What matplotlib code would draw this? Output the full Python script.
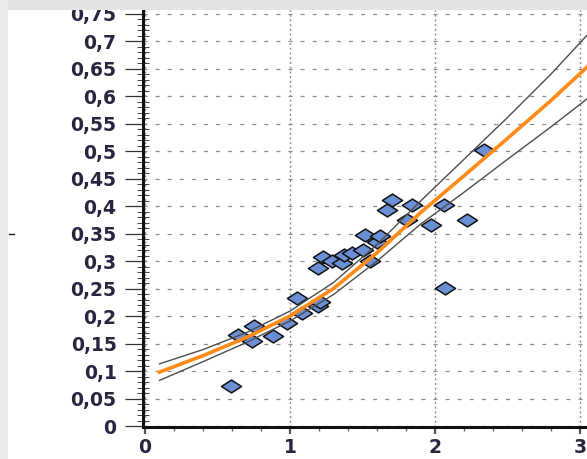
import matplotlib

matplotlib.use("Agg")
import matplotlib.pyplot as plt
from matplotlib.lines import Line2D
from matplotlib.patches import Rectangle
from matplotlib.path import Path
from matplotlib.ticker import FuncFormatter, MultipleLocator

# observed values
x_obs = [0.59, 0.64, 0.75, 0.74, 0.88, 0.98, 1.05, 1.08, 1.19, 1.21,
         1.19, 1.23, 1.29, 1.36, 1.37, 1.43, 1.50, 1.52, 1.55, 1.60,
         1.62, 1.67, 1.70, 1.81, 1.84, 1.97, 2.06, 2.07, 2.22, 2.34]
y_obs = [0.073, 0.165, 0.182, 0.154, 0.163, 0.187, 0.233, 0.205, 0.218, 0.225,
         0.287, 0.307, 0.300, 0.296, 0.311, 0.314, 0.320, 0.347, 0.300, 0.335,
         0.345, 0.393, 0.411, 0.375, 0.402, 0.366, 0.402, 0.251, 0.375, 0.502]

# fitted curve and its confidence band
fit_x = [0.1, 0.4, 0.7, 1.0, 1.3, 1.6, 1.9, 2.2, 2.5, 2.8, 3.05]
fit_y = [0.098, 0.128, 0.161, 0.200, 0.250, 0.315, 0.388, 0.455, 0.523, 0.592, 0.653]
fit_upper = [0.113, 0.139, 0.170, 0.209, 0.261, 0.330, 0.409, 0.485, 0.561, 0.640, 0.711]
fit_lower = [0.083, 0.117, 0.152, 0.191, 0.239, 0.300, 0.367, 0.425, 0.485, 0.544, 0.595]

plt.rcParams["font.family"] = ["DejaVu Sans"]
plt.rcParams["font.weight"] = "bold"
plt.rcParams["lines.scale_dashes"] = False

W, H = 587, 459
fig = plt.figure(figsize=(W / 100, H / 100), dpi=100, facecolor="white")
ax = fig.add_axes([143 / W, 32 / H, 444 / W, 417 / H])
ax.set_facecolor("white")
ax.set_xlim(-0.014, 3.048)
ax.set_ylim(-0.0018, 0.7564)

# wide, flat diamond marker
diamond = Path([(-1, 0), (0, 0.64), (1, 0), (0, -0.64), (-1, 0)],
               [Path.MOVETO, Path.LINETO, Path.LINETO, Path.LINETO, Path.CLOSEPOLY])
ax.plot(x_obs, y_obs, linestyle="none", marker=diamond, markersize=14.5,
        markerfacecolor="#6b8fd4", markeredgecolor="#111111",
        markeredgewidth=1.1, zorder=3)

ax.plot(fit_x, fit_upper, color="#4d4d4d", lw=1.0, zorder=4)
ax.plot(fit_x, fit_lower, color="#4d4d4d", lw=1.0, zorder=4)
ax.plot(fit_x, fit_y, color="#ff8a17", lw=2.6, zorder=5)

ax.xaxis.set_major_locator(MultipleLocator(1))
ax.xaxis.set_minor_locator(MultipleLocator(0.2))
ax.yaxis.set_major_locator(MultipleLocator(0.05))
ax.yaxis.set_minor_locator(MultipleLocator(0.01))
ax.yaxis.set_major_formatter(
    FuncFormatter(lambda v, _: ("%g" % round(v, 2)).replace(".", ",")))
ax.xaxis.set_major_formatter(FuncFormatter(lambda v, _: "%g" % round(v, 2)))

ax.set_axisbelow(True)
ax.yaxis.grid(True, which="major", color="#8c8c8c", lw=0.9,
              linestyle=(0, (2.9, 5.8)))
ax.xaxis.grid(True, which="major", color="#8a8a8a", lw=1.0,
              linestyle=(0, (1.4, 2.0)))

for side in ("top", "right"):
    ax.spines[side].set_visible(False)
for side in ("left", "bottom"):
    ax.spines[side].set_linewidth(2.2)
    ax.spines[side].set_color("#111111")

label_color = "#2a2440"
ax.tick_params(axis="y", which="major", direction="out", length=13, width=0.9,
               color="#333333", pad=6, labelsize=13.5, labelcolor=label_color)
ax.tick_params(axis="y", which="minor", direction="inout", length=9, width=0.7,
               color="#444444")
ax.tick_params(axis="x", which="major", direction="out", length=5, width=1.6,
               color="#555555", pad=3, labelsize=13.5, labelcolor=label_color)
ax.tick_params(axis="x", which="minor", direction="out", length=3, width=1.0,
               color="#666666")

# frame strips along the top and left edges
fig.add_artist(Rectangle((0, 1 - 10 / H), 1, 10 / H, transform=fig.transFigure,
                         facecolor="#e4e4e4", edgecolor="none", zorder=10))
fig.add_artist(Rectangle((0, 0), 8 / W, 1, transform=fig.transFigure,
                         facecolor="#eaeaea", edgecolor="none", zorder=10))
fig.add_artist(Line2D([9 / W, 14 / W], [1 - 234 / H, 1 - 234 / H],
                      transform=fig.transFigure, color="#222222", lw=1.0))

fig.savefig("out.png", dpi=100, facecolor="white")
